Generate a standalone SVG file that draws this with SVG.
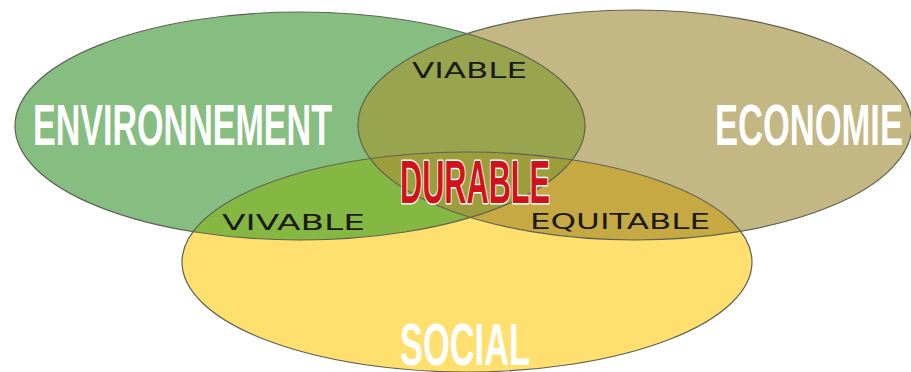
<svg xmlns="http://www.w3.org/2000/svg" width="911" height="372" viewBox="0 0 911 372">
<style>
.big{font-family:"Liberation Sans",Arial,sans-serif;font-weight:bold;fill:#ffffff}
.small{font-family:"DejaVu Sans","Liberation Sans",sans-serif;font-weight:normal;fill:#1a1a1a}
.edge{fill:none;stroke:#5f6352;stroke-width:1.2}
.dur{font-family:"Liberation Sans",Arial,sans-serif;font-weight:bold;fill:#d0121b;stroke:#ffffff;stroke-width:3;paint-order:stroke;stroke-linejoin:round}
</style>
<defs>
<clipPath id="cg"><ellipse cx="300" cy="126" rx="285" ry="114"/></clipPath>
<clipPath id="ct"><ellipse cx="635" cy="125" rx="277" ry="115"/></clipPath>
<clipPath id="cy"><ellipse cx="467" cy="262" rx="285" ry="110"/></clipPath>
</defs>
<rect width="911" height="372" fill="#ffffff"/>
<g id="environnement">
<ellipse cx="300" cy="126" rx="285" ry="114" fill="#86be82"/>
</g>
<g id="economie">
<ellipse cx="635" cy="125" rx="277" ry="115" fill="#c3b783"/>
</g>
<g id="social">
<ellipse cx="467" cy="262" rx="285" ry="110" fill="#ffdf6e"/>
</g>
<g id="overlaps">
<g clip-path="url(#cg)"><ellipse cx="635" cy="125" rx="277" ry="115" fill="#99a44f"/></g>
<g clip-path="url(#cg)"><ellipse cx="467" cy="262" rx="285" ry="110" fill="#84b843"/></g>
<g clip-path="url(#ct)"><ellipse cx="467" cy="262" rx="285" ry="110" fill="#c7a944"/></g>
<g clip-path="url(#cg)"><g clip-path="url(#ct)"><ellipse cx="467" cy="262" rx="285" ry="110" fill="#9c9e3b"/></g></g>
</g>
<g id="outlines">
<ellipse class="edge" cx="300" cy="126" rx="285" ry="114"/>
<ellipse class="edge" cx="635" cy="125" rx="277" ry="115"/>
<ellipse class="edge" cx="467" cy="262" rx="285" ry="110"/>
</g>
<g id="labels">
<text class="big" x="33" y="145" font-size="58" textLength="299" lengthAdjust="spacingAndGlyphs">ENVIRONNEMENT</text>
<text class="big" x="715" y="145" font-size="58" textLength="188" lengthAdjust="spacingAndGlyphs">ECONOMIE</text>
<text class="big" x="400" y="365" font-size="60" textLength="130" lengthAdjust="spacingAndGlyphs">SOCIAL</text>
<text class="small" x="412" y="78" font-size="21" textLength="115" lengthAdjust="spacingAndGlyphs">VIABLE</text>
<text class="small" x="222" y="230" font-size="21" textLength="143" lengthAdjust="spacingAndGlyphs">VIVABLE</text>
<text class="small" x="530" y="229" font-size="21" textLength="180" lengthAdjust="spacingAndGlyphs">EQUITABLE</text>
</g>
<g id="durable">
<text class="dur" x="400" y="203" font-size="62" textLength="150" lengthAdjust="spacingAndGlyphs">DURABLE</text>
</g>
</svg>
